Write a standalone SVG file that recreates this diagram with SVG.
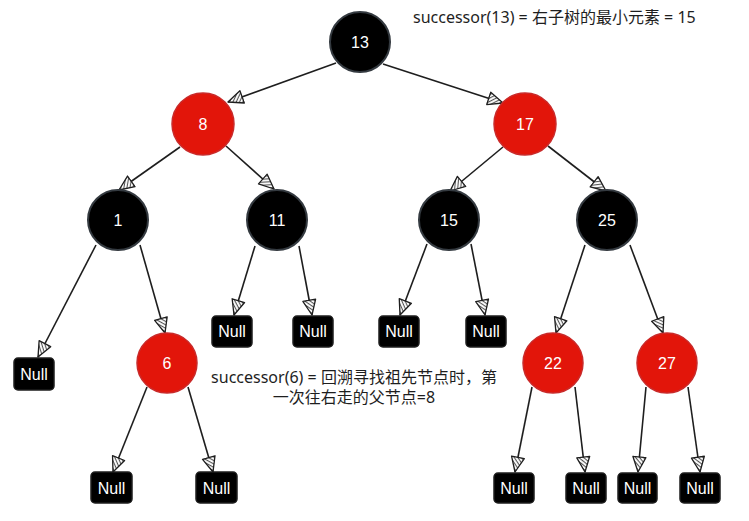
<svg xmlns="http://www.w3.org/2000/svg" width="749" height="521" viewBox="0 0 749 521">
<defs>
<pattern id="hatch" patternUnits="userSpaceOnUse" width="3" height="3" patternTransform="rotate(45)">
<rect width="3" height="3" fill="#ffffff"/>
<line x1="0" y1="0" x2="0" y2="3" stroke="#555555" stroke-width="2.2"/>
</pattern>
<marker id="arr" markerUnits="userSpaceOnUse" markerWidth="18" markerHeight="16" viewBox="0 0 18 16" refX="16" refY="8" orient="auto">
<path d="M1,1.5 L16,8 L1,14.5 Z" fill="url(#hatch)" stroke="#1e1e1e" stroke-width="1.3" stroke-linejoin="round"/>
</marker>
</defs>
<style>
.edge{stroke:#1e1e1e;stroke-width:1.6;fill:none;marker-end:url(#arr)}
.blk{fill:#000000;stroke:#343a40;stroke-width:2}
.red{fill:#e2150a;stroke:#c92a2a;stroke-width:1.5}
.nul{fill:#000000;stroke:#1e1e1e;stroke-width:1.5}
.num{fill:#ffffff;font-family:"Liberation Sans",Arial,sans-serif;font-size:16px;text-anchor:middle}
.nt{fill:#ffffff;font-family:"Liberation Sans",Arial,sans-serif;font-size:16px;text-anchor:middle}
.note{fill:#1e1e1e;font-family:"Noto Sans","Noto Sans CJK SC",sans-serif;font-size:16px}
</style>
<g id="edges">
<line class="edge" x1="336" y1="63" x2="228" y2="102"/>
<line class="edge" x1="383" y1="64" x2="503" y2="103"/>
<line class="edge" x1="180" y1="147" x2="119" y2="190"/>
<line class="edge" x1="226" y1="146" x2="274" y2="189"/>
<line class="edge" x1="503" y1="147" x2="450" y2="191"/>
<line class="edge" x1="548" y1="146" x2="606" y2="191"/>
<line class="edge" x1="96" y1="245" x2="38" y2="357"/>
<line class="edge" x1="140" y1="245" x2="165" y2="333"/>
<line class="edge" x1="255" y1="246" x2="234" y2="315"/>
<line class="edge" x1="299" y1="246" x2="312" y2="315"/>
<line class="edge" x1="427" y1="244" x2="400" y2="315"/>
<line class="edge" x1="471" y1="244" x2="485" y2="315"/>
<line class="edge" x1="585" y1="245" x2="556" y2="333"/>
<line class="edge" x1="630" y1="245" x2="663" y2="333"/>
<line class="edge" x1="147" y1="387" x2="113" y2="472"/>
<line class="edge" x1="188" y1="387" x2="213" y2="472"/>
<line class="edge" x1="532" y1="387" x2="515" y2="472"/>
<line class="edge" x1="575" y1="387" x2="585" y2="472"/>
<line class="edge" x1="646" y1="387" x2="638" y2="472"/>
<line class="edge" x1="688" y1="387" x2="700" y2="472"/>
</g>
<g id="n13"><circle class="blk" cx="360" cy="42" r="30"/><text class="num" x="360" y="48">13</text></g>
<g id="n8"><circle class="red" cx="203" cy="124" r="31"/><text class="num" x="203" y="130">8</text></g>
<g id="n17"><circle class="red" cx="525" cy="124" r="31"/><text class="num" x="525" y="130">17</text></g>
<g id="n1"><circle class="blk" cx="118" cy="220" r="30"/><text class="num" x="118" y="226">1</text></g>
<g id="n11"><circle class="blk" cx="277" cy="220" r="30"/><text class="num" x="277" y="226">11</text></g>
<g id="n15"><circle class="blk" cx="449" cy="220" r="30"/><text class="num" x="449" y="226">15</text></g>
<g id="n25"><circle class="blk" cx="607" cy="220" r="30"/><text class="num" x="607" y="226">25</text></g>
<g id="n6"><circle class="red" cx="167" cy="363" r="30"/><text class="num" x="167" y="369">6</text></g>
<g id="n22"><circle class="red" cx="553" cy="363" r="30"/><text class="num" x="553" y="369">22</text></g>
<g id="n27"><circle class="red" cx="667" cy="363" r="30"/><text class="num" x="667" y="369">27</text></g>
<g id="null1"><rect class="nul" x="14" y="358" width="40" height="32" rx="4"/><text class="nt" x="34" y="380">Null</text></g>
<g id="null2"><rect class="nul" x="212" y="316" width="40" height="31" rx="4"/><text class="nt" x="232" y="337">Null</text></g>
<g id="null3"><rect class="nul" x="293" y="316" width="40" height="31" rx="4"/><text class="nt" x="313" y="337">Null</text></g>
<g id="null4"><rect class="nul" x="379" y="316" width="40" height="31" rx="4"/><text class="nt" x="399" y="337">Null</text></g>
<g id="null5"><rect class="nul" x="466" y="316" width="40" height="31" rx="4"/><text class="nt" x="486" y="337">Null</text></g>
<g id="null6"><rect class="nul" x="91" y="472" width="41" height="31" rx="4"/><text class="nt" x="111.5" y="494">Null</text></g>
<g id="null7"><rect class="nul" x="196" y="472" width="41" height="31" rx="4"/><text class="nt" x="216.5" y="494">Null</text></g>
<g id="null8"><rect class="nul" x="494" y="473" width="40" height="30" rx="4"/><text class="nt" x="514" y="494">Null</text></g>
<g id="null9"><rect class="nul" x="566" y="473" width="40" height="30" rx="4"/><text class="nt" x="586" y="494">Null</text></g>
<g id="null10"><rect class="nul" x="618" y="473" width="39" height="30" rx="4"/><text class="nt" x="637.5" y="494">Null</text></g>
<g id="null11"><rect class="nul" x="680" y="473" width="40" height="30" rx="4"/><text class="nt" x="700" y="494">Null</text></g>
<g id="labels">
<text class="note" x="413" y="23">successor(13) = 右子树的最小元素 = 15</text>
<text class="note" x="354" y="383" text-anchor="middle">successor(6) = 回溯寻找祖先节点时，第</text>
<text class="note" x="354" y="403" text-anchor="middle">一次往右走的父节点=8</text>
</g>
</svg>
